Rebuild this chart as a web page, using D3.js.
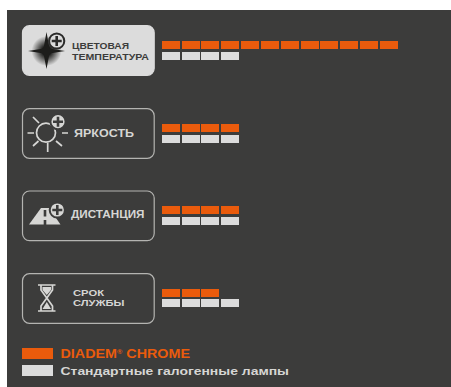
<!DOCTYPE html>
<html>
<head>
<meta charset="utf-8">
<script src="https://cdn.jsdelivr.net/npm/d3@7"></script>
<style>
html,body{margin:0;padding:0;background:#fff;}
svg{display:block;}
text{font-family:"Liberation Sans",Arial,sans-serif;font-weight:bold;}
</style>
</head>
<body>
<svg id="chart" width="451" height="387"></svg>
<script>
var categories = ["ЦВЕТОВАЯ ТЕМПЕРАТУРА", "ЯРКОСТЬ", "ДИСТАНЦИЯ", "СРОК СЛУЖБЫ"];
var diademValues = [12, 4, 4, 3];
var standardValues = [4, 4, 4, 4];
var seriesNames = ["DIADEM", "Стандартные галогенные лампы"];

var ORANGE = "#ea5b0c", GREY = "#dcdcdc", BG = "#3c3c3b", LINE = "#b4b4b1", LABEL = "#d6d6d4";

var svg = d3.select("#chart");
svg.append("rect").attr("x",7).attr("y",10).attr("width",444).attr("height",377).attr("fill",BG);

// one unit = one segment of the bar
var x = d3.scaleLinear().domain([0,12]).range([162,400]);
var y = d3.scalePoint().domain(categories).range([41,289]);
var segW = 18, segH = 8;
var greyGap = [11,11,11,10];
function segX(d){return Math.floor(x(d)+0.3);}

// bars
categories.forEach(function(c,i){
	var g = svg.append("g");
	g.selectAll("rect.a").data(d3.range(diademValues[i])).enter().append("rect")
		.attr("class","a")
		.attr("x",segX)
		.attr("y",Math.round(y(c)))
		.attr("width",segW).attr("height",segH).attr("fill",ORANGE);
	g.selectAll("rect.b").data(d3.range(standardValues[i])).enter().append("rect")
		.attr("class","b")
		.attr("x",segX)
		.attr("y",Math.round(y(c))+greyGap[i])
		.attr("width",segW).attr("height",segH).attr("fill",GREY);
});

// boxes round the row names
var boxTop = [25.7,108.7,191,273.7];
categories.forEach(function(c,i){
	svg.append("rect").attr("x",22.5).attr("y",boxTop[i]).attr("width",131.7).attr("height",49.6)
		.attr("rx",7)
		.attr("fill",i==0?GREY:"none")
		.attr("stroke",i==0?GREY:LINE).attr("stroke-width",1.2);
});

function label(str,x0,x1,base,size,col){
	svg.append("text").attr("x",x0).attr("y",base).attr("font-size",size).attr("fill",col)
		.attr("textLength",x1-x0).attr("lengthAdjust","spacingAndGlyphs").text(str);
}
label("ЦВЕТОВАЯ",72,129,49.3,9.5,"#3c3c3b");
label("ТЕМПЕРАТУРА",72,149,59.8,9.5,"#3c3c3b");
label("ЯРКОСТЬ",74,134,137,10,LABEL);
label("ДИСТАНЦИЯ",71,144.5,217.5,10,LABEL);
label("СРОК",73,104,296,9.5,LABEL);
label("СЛУЖБЫ",73,124.5,306,9.5,LABEL);

// plus badge used on three icons
function plus(cx,cy,ring,fill,cross){
	svg.append("circle").attr("cx",cx).attr("cy",cy).attr("r",7.6).attr("fill",fill)
		.attr("stroke",ring).attr("stroke-width",2);
	svg.append("path").attr("d","M"+(cx-5)+","+cy+"H"+(cx+5)+"M"+cx+","+(cy-5)+"V"+(cy+5))
		.attr("stroke",cross).attr("stroke-width",2.6);
}

// star icon
var defs = svg.append("defs");
var glow = defs.append("radialGradient").attr("id","glow");
glow.append("stop").attr("offset","0.3").attr("stop-color","#1d1d1b").attr("stop-opacity",1);
glow.append("stop").attr("offset","1").attr("stop-color","#1d1d1b").attr("stop-opacity",0);
svg.append("circle").attr("cx",46.5).attr("cy",51).attr("r",15).attr("fill","url(#glow)");
svg.append("path").attr("d","M28,51 L43.5,48.5 L46.5,32 L49.5,48.5 L65,51 L49.5,53.5 L46.5,69 L43.5,53.5 Z").attr("fill","#1d1d1b");
plus(56.7,41,"#2b2b2a",GREY,"#2b2b2a");

// sun icon
svg.append("circle").attr("cx",46).attr("cy",132.7).attr("r",9.5).attr("fill","none")
	.attr("stroke",LABEL).attr("stroke-width",1.7);
svg.append("path")
	.attr("d","M27.5,133H34 M62,133H68 M47.7,142.5V152 M33,117L39,123 M33,146L38.5,141 M56,141L62,146")
	.attr("stroke",LABEL).attr("stroke-width",1.7);
plus(58,121.7,BG,LABEL,BG);

// road icon
svg.append("path").attr("d","M29,224.5 L41,208 H49 L60.5,224.5 Z").attr("fill",LABEL);
svg.append("path").attr("d","M45,210V216.5 M45,220V225").attr("stroke",BG).attr("stroke-width",2.6);
plus(57.3,210,BG,LABEL,BG);

// hourglass icon
svg.append("path")
	.attr("d","M38,285H55.5 M38,311H55.5 M41,285V290 L46.8,298 L41,306V311 M52.5,285V290 L46.8,298 L52.5,306V311")
	.attr("fill","none").attr("stroke",LABEL).attr("stroke-width",1.7);
svg.append("path").attr("d","M42.5,287H51V290L46.8,295L42.5,290Z M46.8,302L51,309H42.5Z").attr("fill",LABEL);

// legend
svg.append("rect").attr("x",22).attr("y",348).attr("width",31).attr("height",11).attr("fill",ORANGE);
svg.append("rect").attr("x",22).attr("y",365).attr("width",31).attr("height",11).attr("fill",GREY);
var t = svg.append("text").attr("x",60.5).attr("y",357.7).attr("font-size",12).attr("fill",ORANGE)
	.attr("textLength",129.5).attr("lengthAdjust","spacingAndGlyphs");
t.append("tspan").text(seriesNames[0]);
t.append("tspan").attr("font-size",6).attr("dy",-4).text("®");
t.append("tspan").attr("dy",4).text(" CHROME");
label(seriesNames[1],60.5,289,374.5,11.5,LABEL);
</script>
</body>
</html>
